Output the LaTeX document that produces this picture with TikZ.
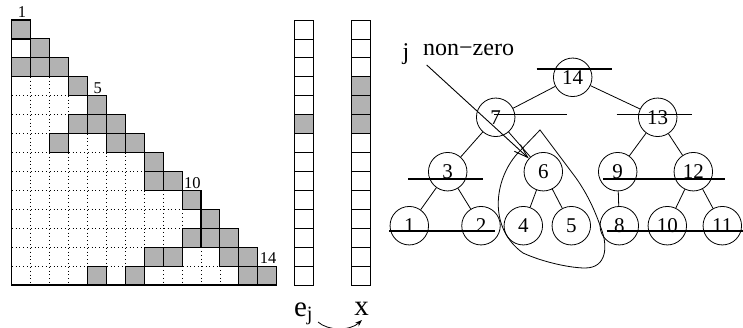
\documentclass[tikz,border=0pt]{standalone}
\usepackage{fontspec}
\setmainfont{Liberation Serif}
\usepackage{tikz}
\usetikzlibrary{
  arrows.meta,
  positioning
}
\definecolor{nzgray}{RGB}{178,178,178}
\tikzset{
  treenode/.style={draw, circle, minimum size=38.5pt, inner sep=0pt,
    line width=0.8pt, font=\fontsize{21}{22}\selectfont},
  treeedge/.style={line width=0.8pt},
  sepline/.style={line width=1.1pt},
  gridline/.style={line width=0.8pt, dash pattern=on 0.8pt off 3pt},
  outline/.style={line width=1.2pt},
  nzcell/.style={fill=nzgray, draw, line width=1.1pt},
  veccell/.style={draw, line width=0.8pt},
  nzarr/.style={-{Straight Barb[length=14pt,width=9pt]}, line width=0.9pt},
  swaparr/.style={-{Stealth[length=7pt,width=5pt]}, line width=0.8pt},
  idxlabel/.style={font=\fontsize{16.5}{17}\selectfont, anchor=south, inner sep=2pt},
  biglabel/.style={font=\fontsize{29}{30}\selectfont, anchor=base, inner sep=1pt},
  txtlabel/.style={font=\fontsize{24}{25}\selectfont, inner sep=0pt},
}

\begin{document}
\begin{tikzpicture}[x=1pt, y=-1pt]
  \useasboundingbox (0,0) rectangle (743,328);

  % Matrix L
  \begin{scope}[shift={(11.7,20)}, x=18.93pt, y=-18.93pt]
    \foreach \k in {1,...,13} {
      \draw[gridline] (\k,\k) -- (\k,14);
      \draw[gridline] (0,\k) -- (\k,\k);
    }
    \foreach \r/\c in {1/1, 2/2, 3/1, 3/2, 3/3, 4/4, 5/5, 6/4, 6/5, 6/6,
      7/3, 7/6, 7/7, 8/8, 9/8, 9/9, 10/10, 11/11, 12/10, 12/11, 12/12,
      13/8, 13/9, 13/12, 13/13, 14/5, 14/7, 14/13, 14/14}
      \draw[nzcell] (\c-1,\r-1) rectangle (\c,\r);
    \draw[outline] (0,0) -- (0,14) -- (14,14);
    \draw[outline] (0,1) -- (1,1) (0,2) -- (2,2) (1,1) -- (1,3);
    \node[idxlabel] (lab1) at (0.55,0) {1};
    \node[idxlabel] (lab5) at (4.55,4) {5};
    \node[idxlabel] (lab10) at (9.55,9) {10};
    \node[idxlabel] (lab14) at (13.55,13) {14};
  \end{scope}

  % Vectors e_j and x
  \begin{scope}[shift={(294.7,20)}, x=18.6pt, y=-18.93pt]
    \foreach \r in {1,...,14}
      \draw[veccell] (0,\r-1) rectangle (1,\r);
    \draw[veccell, fill=nzgray] (0,5) rectangle (1,6);
  \end{scope}
  \begin{scope}[shift={(351.7,20)}, x=18.6pt, y=-18.93pt]
    \foreach \r in {1,...,14}
      \draw[veccell] (0,\r-1) rectangle (1,\r);
    \foreach \r in {4,5,6}
      \draw[veccell, fill=nzgray] (0,\r-1) rectangle (1,\r);
  \end{scope}
  \node[biglabel] (ejlab) at (303.5,316) {e\textsubscript{j}};
  \node[biglabel] (xlab) at (361.7,315) {x};
  \coordinate (swapA) at (318,322);
  \coordinate (swapB) at (362,320);
  \draw[swaparr] (swapA) .. controls (328,331) and (350,331) .. (swapB);

  % Elimination tree
  \node[treenode] (n14) at (572.7,77.3) {14};
  \node[treenode] (n7) at (495.7,117.3) {7};
  \node[treenode] (n13) at (657.7,117.3) {13};
  \node[treenode] (n3) at (447.7,171.7) {3};
  \node[treenode] (n6) at (543.3,171.7) {6};
  \node[treenode] (n9) at (617.7,171.7) {9};
  \node[treenode] (n12) at (693.3,171.7) {12};
  \node[treenode] (n1) at (409.3,225.7) {1};
  \node[treenode] (n2) at (481,225.7) {2};
  \node[treenode] (n4) at (523.3,225.7) {4};
  \node[treenode] (n5) at (571.3,225.7) {5};
  \node[treenode] (n8) at (619.3,225.7) {8};
  \node[treenode] (n10) at (667.3,225.7) {10};
  \node[treenode] (n11) at (722.3,225.7) {11};
  \foreach \a/\b in {14/7, 14/13, 7/3, 7/6, 13/9, 13/12, 3/1, 3/2,
    6/4, 6/5, 9/8, 12/10, 12/11}
    \draw[treeedge] (n\a) -- (n\b);

  % Supernode separators
  \draw[sepline] (536.7,69) -- (611.7,69);
  \draw[sepline] (494.3,114.3) -- (566.7,114.3);
  \draw[sepline] (616.7,114.3) -- (691.7,114.3);
  \draw[sepline] (408.3,179) -- (483.3,179);
  \draw[sepline] (603.3,179) -- (725,179);
  \draw[sepline] (389.3,231) -- (495,231);
  \draw[sepline] (606.7,231) -- (742.7,231);

  % Subtree of 6
  \draw[treeedge] (540,130) -- (517,154) .. controls (494,180) and (488,228) .. (523,253)
    .. controls (545,263) and (572,268) .. (585,268)
    .. controls (607,268) and (608,246) .. (601,228)
    .. controls (595,211) and (588,195) .. (576,178) -- cycle;

  % Non-zero pointer
  \node[txtlabel, anchor=base] (jlab) at (406,60) {j};
  \node[txtlabel, anchor=base west] (nzlab) at (423,56) {non−zero};
  \coordinate (nzstart) at (426.7,65);
  \draw[nzarr] (nzstart) -- (n6);
\end{tikzpicture}
\end{document}
